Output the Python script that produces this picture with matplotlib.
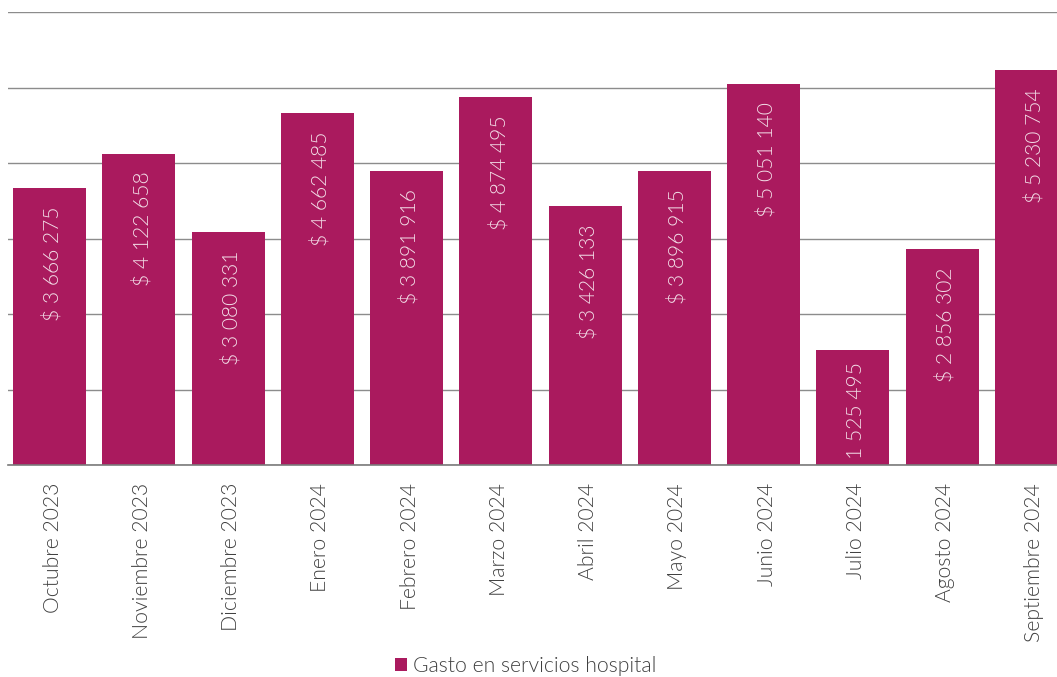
import matplotlib
matplotlib.use("Agg")
import matplotlib.pyplot as plt
import matplotlib.transforms as mtransforms
from matplotlib.patches import Patch

plt.rcParams['font.family'] = ['Lato', 'DejaVu Sans']

categories = ["Octubre 2023", "Noviembre 2023", "Diciembre 2023", "Enero 2024",
              "Febrero 2024", "Marzo 2024", "Abril 2024", "Mayo 2024",
              "Junio 2024", "Julio 2024", "Agosto 2024", "Septiembre 2024"]
values = [3666275, 4122658, 3080331, 4662485, 3891916, 4874495,
          3426133, 3896915, 5051140, 1525495, 2856302, 5230754]
labels = ["$ 3 666 275", "$ 4 122 658", "$ 3 080 331", "$ 4 662 485",
          "$ 3 891 916", "$ 4 874 495", "$ 3 426 133", "$ 3 896 915",
          "$ 5 051 140", "1 525 495", "$ 2 856 302", "$ 5 230 754"]
series_name = "Gasto en servicios hospital"

bar_color = "#AA1A5E"
W = 300
fig = plt.figure(figsize=(10.57, 6.77), dpi=100)
ax = fig.add_axes([8/1057, (677-465)/677, (1057-8)/1057, (465-12)/677])

x = list(range(len(categories)))
ax.bar(x, values, width=0.818, color=bar_color, zorder=2)
ax.set_ylim(0, 6000000)
ax.set_xlim(-0.465, 11.286)
ax.set_yticks(range(0, 6000001, 1000000))
ax.yaxis.grid(True, color="#8c8c8c", linewidth=1.0, zorder=1)
ax.tick_params(axis='y', left=False, labelleft=False)
for s in ['left', 'right', 'top']:
    ax.spines[s].set_visible(False)
ax.spines['bottom'].set_color("#7a7a7a")
ax.spines['bottom'].set_linewidth(1.2)
ax.spines['bottom'].set_zorder(3)

ax.set_xticks(x)
ax.set_xticklabels(categories, rotation=90, fontsize=15.2, color="#404040",
                   fontweight=W)
ax.tick_params(axis='x', length=0, pad=13)
shift = mtransforms.ScaledTranslation(3/100, 0, fig.dpi_scale_trans)
for t in ax.get_xticklabels():
    t.set_transform(t.get_transform() + shift)

for xi, v, lab in zip(x, values, labels):
    off = -9 if lab.startswith("1") else -13
    ax.annotate(lab, (xi, v), xytext=(2.2, off), textcoords='offset points',
                rotation=90, ha='center', va='top', fontsize=15.1,
                color="#F2DCE6", fontweight=W, zorder=4)

fig.legend(handles=[Patch(facecolor=bar_color, edgecolor='none')],
           labels=[series_name], loc='center', bbox_to_anchor=(526/1057, 1-666/677),
           frameon=False, handlelength=0.55, handleheight=0.55,
           handletextpad=0.3, labelcolor="#404040",
           prop={'family': ['Lato', 'DejaVu Sans'], 'weight': W, 'size': 15.2})

fig.savefig("out.png", dpi=100)
